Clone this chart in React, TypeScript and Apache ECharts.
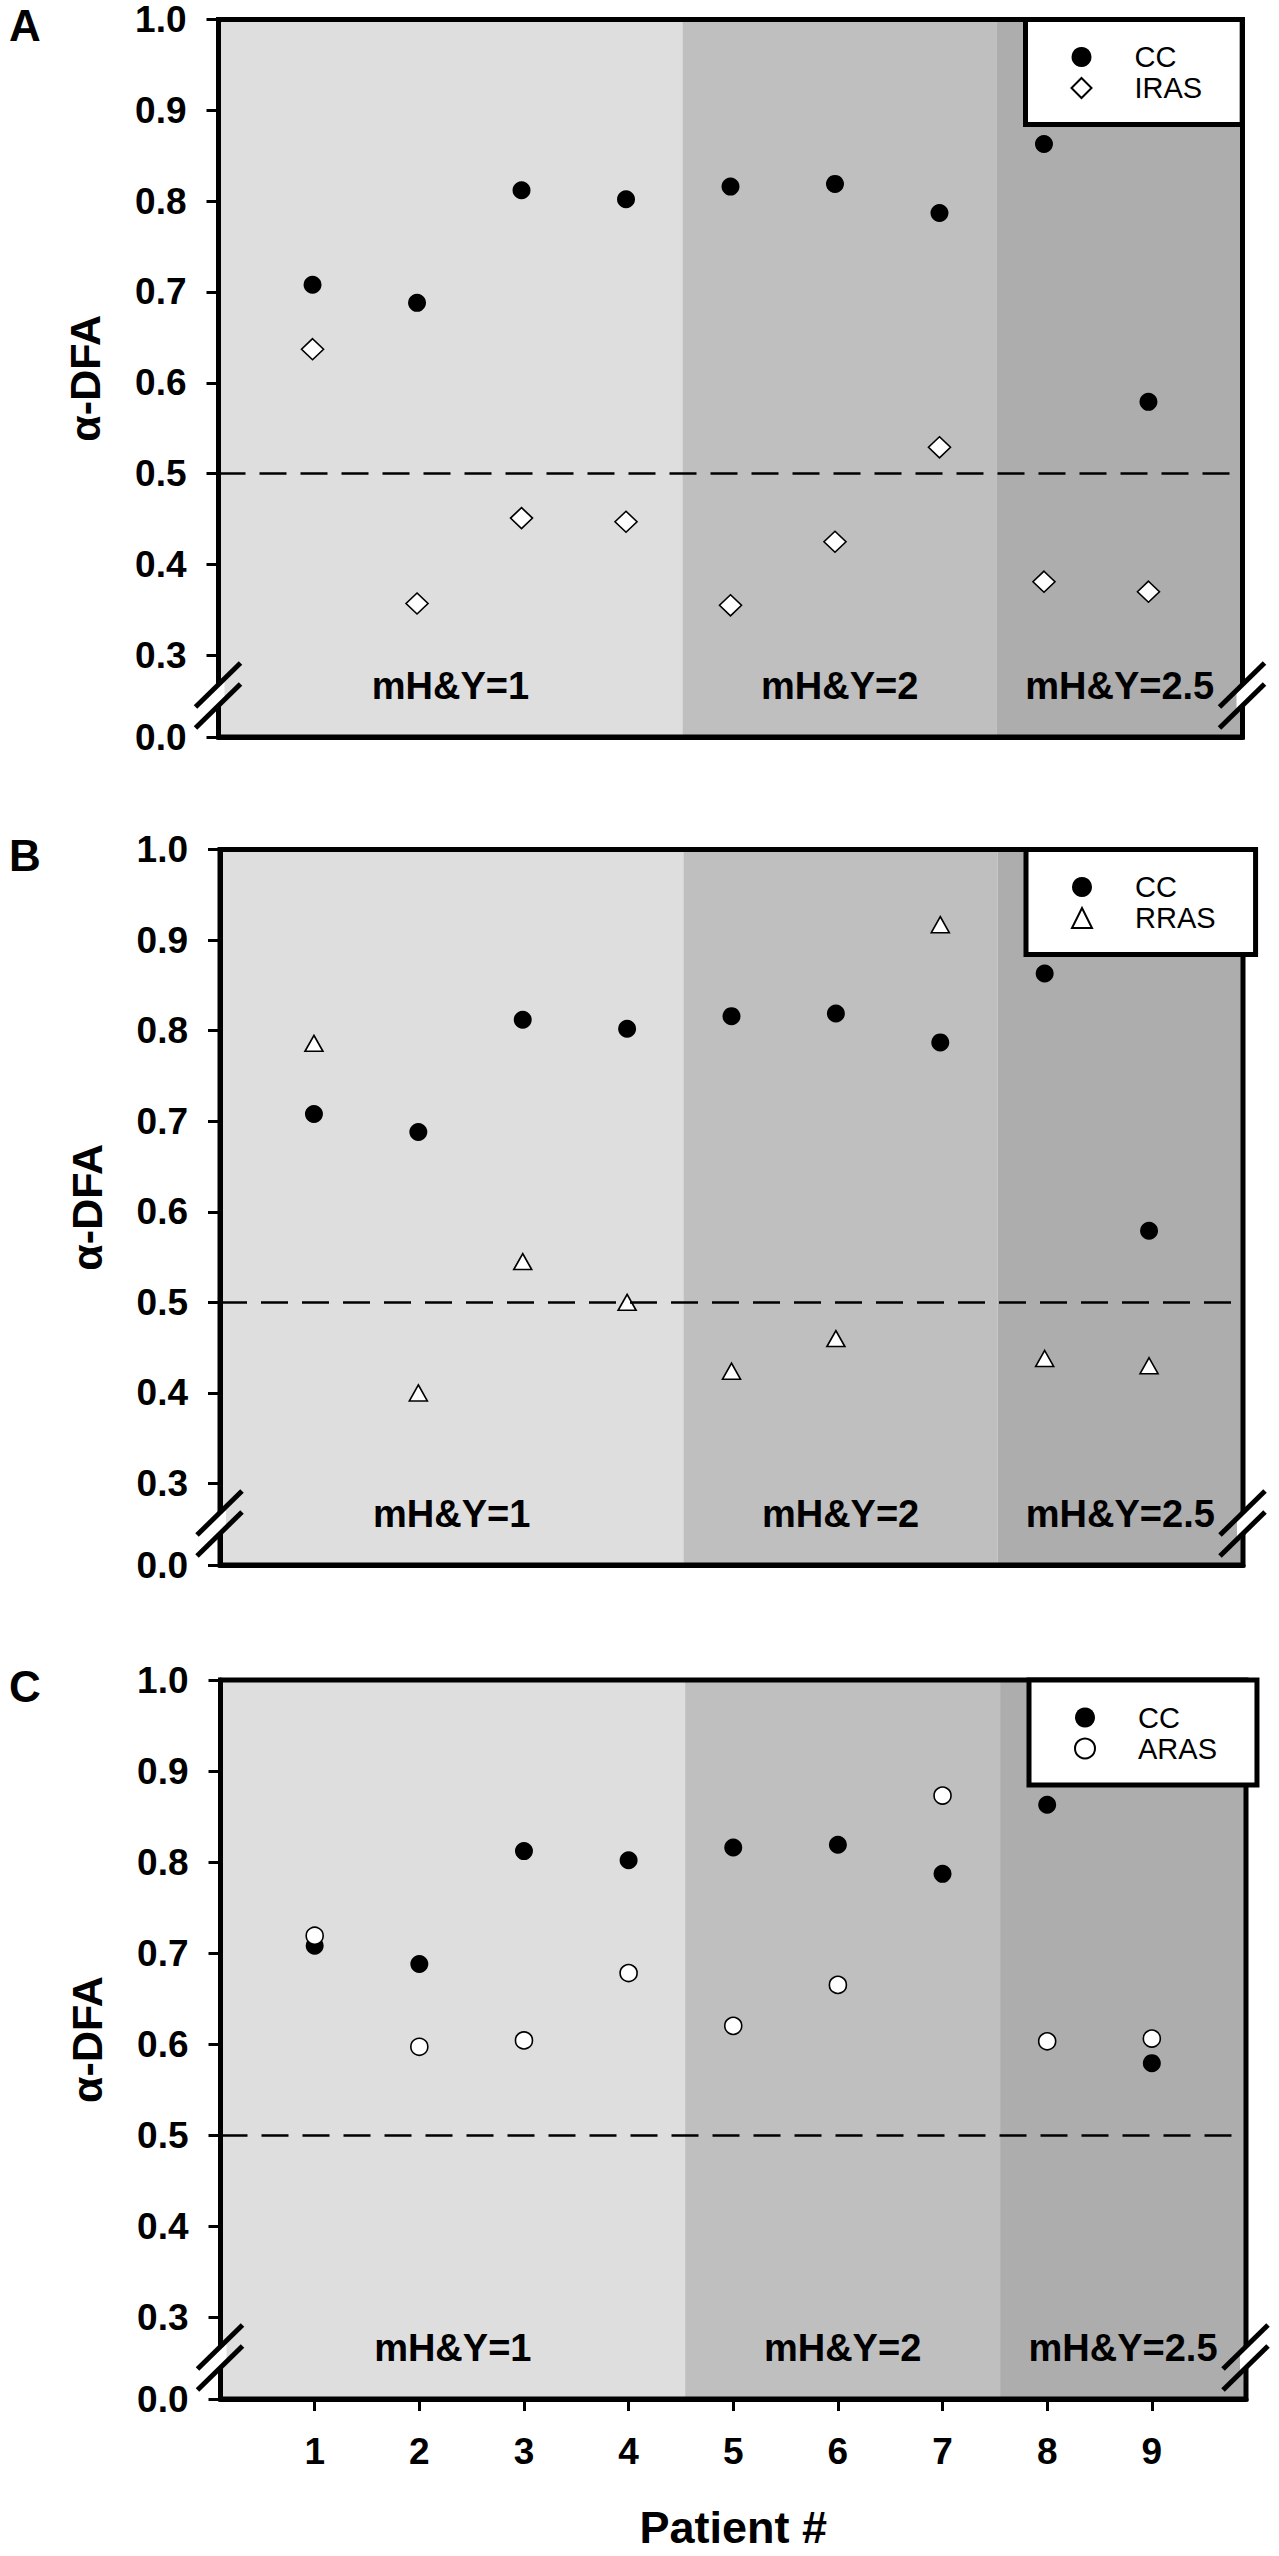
import React, { useEffect, useRef } from "react";
import * as echarts from "echarts";

// ---------- data ----------
const patients = [1, 2, 3, 4, 5, 6, 7, 8, 9];
const ccValues = [0.708, 0.688, 0.812, 0.802, 0.816, 0.819, 0.787, 0.863, 0.579];
const irasValues = [0.637, 0.357, 0.451, 0.447, 0.355, 0.425, 0.529, 0.381, 0.37];
const rrasValues = [0.786, 0.4, 0.545, 0.5, 0.424, 0.46, 0.917, 0.438, 0.43];
const arasValues = [0.719, 0.597, 0.604, 0.678, 0.62, 0.665, 0.873, 0.603, 0.606];

const yTickValues = [0.21, 0.3, 0.4, 0.5, 0.6, 0.7, 0.8, 0.9, 1.0];
const xTickValues = [1, 2, 3, 4, 5, 6, 7, 8, 9];
const stageLabels = ["mH&Y=1", "mH&Y=2", "mH&Y=2.5"];
const stageBounds = [0.1, 4.54, 7.55, 9.9];
const referenceLine = 0.5;
const panelLetters = ["A", "B", "C"];
const compareNames = ["IRAS", "RRAS", "ARAS"];

const Y_MIN = 0.21;
const Y_MAX = 1.0;
const X_MIN = 0.1;
const X_MAX = 9.9;

// ---------- styling / layout ----------
const FONT = '"Liberation Sans", Arial, Helvetica, sans-serif';
const stageColors = ["#dedede", "#bfbfbf", "#adadad"];
const panelBoxes = [
  { L: 218.5, R: 1242.5, T: 19.5, B: 737 },
  { L: 220, R: 1243, T: 849.5, B: 1565 },
  { L: 220.5, R: 1246, T: 1680, B: 2399 },
];
const compareSymbols = [
  { symbol: "diamond", size: [22, 21] },
  { symbol: "triangle", size: [18, 16] },
  { symbol: "circle", size: 17 },
];
const compareValues = [irasValues, rrasValues, arasValues];

function buildOption() {
  const grid = panelBoxes.map((p) => ({
    left: p.L,
    top: p.T,
    width: p.R - p.L,
    height: p.B - p.T,
    show: true,
    borderColor: "#000",
    borderWidth: 5,
    backgroundColor: "transparent",
    containLabel: false,
    z: 4,
  }));

  const xAxis = panelBoxes.map((p, i) => {
    const last = i === panelBoxes.length - 1;
    return {
      type: "value",
      gridIndex: i,
      min: X_MIN,
      max: X_MAX,
      z: 5,
      axisLine: { show: true, onZero: false, lineStyle: { color: "#000", width: 5 } },
      splitLine: { show: false },
      axisTick: last
        ? { show: true, customValues: xTickValues, length: 12, lineStyle: { color: "#000", width: 3 } }
        : { show: false },
      axisLabel: last
        ? {
            show: true,
            customValues: xTickValues,
            margin: 34,
            fontSize: 37,
            fontWeight: "bold",
            fontFamily: FONT,
            color: "#000",
            formatter: (v: number) => String(Math.round(v)),
          }
        : { show: false },
      name: last ? "Patient #" : "",
      nameLocation: "middle",
      nameGap: 106,
      nameTextStyle: { fontSize: 45, fontWeight: "bold", fontFamily: FONT, color: "#000" },
    };
  });

  const yAxis = panelBoxes.map((p, i) => ({
    type: "value",
    gridIndex: i,
    min: Y_MIN,
    max: Y_MAX,
    z: 5,
    axisLine: { show: true, onZero: false, lineStyle: { color: "#000", width: 5 } },
    splitLine: { show: false },
    axisTick: { show: true, customValues: yTickValues, length: 12, lineStyle: { color: "#000", width: 3 } },
    axisLabel: {
      show: true,
      customValues: yTickValues,
      margin: 32,
      fontSize: 37,
      fontWeight: "bold",
      fontFamily: FONT,
      color: "#000",
      formatter: (v: number) => (v < 0.25 ? "0.0" : Number(v).toFixed(1)),
    },
    name: "α-DFA",
    nameLocation: "middle",
    nameGap: 112,
    nameRotate: 90,
    nameTextStyle: { fontSize: 43, fontWeight: "bold", fontFamily: FONT, color: "#000" },
  }));

  const series: any[] = [];
  panelBoxes.forEach((p, i) => {
    series.push({
      type: "scatter",
      name: "CC",
      xAxisIndex: i,
      yAxisIndex: i,
      data: patients.map((x, k) => [x, ccValues[k]]),
      symbol: "circle",
      symbolSize: 18,
      itemStyle: { color: "#000", opacity: 1 },
      z: 2,
      markArea: {
        silent: true,
        label: {
          show: true,
          position: "insideBottom",
          distance: 32,
          fontSize: 38,
          fontWeight: "bold",
          fontFamily: FONT,
          color: "#000",
        },
        data: stageLabels.map((name, k) => [
          { name, xAxis: stageBounds[k], yAxis: Y_MIN, itemStyle: { color: stageColors[k], opacity: 1, borderWidth: 0 } },
          { xAxis: stageBounds[k + 1], yAxis: Y_MAX },
        ]),
      },
      markLine: {
        silent: true,
        symbol: "none",
        label: { show: false },
        lineStyle: { type: [27, 14], color: "#000", width: 2.5 },
        data: [{ yAxis: referenceLine }],
      },
    });
    series.push({
      type: "scatter",
      name: compareNames[i],
      xAxisIndex: i,
      yAxisIndex: i,
      data: patients.map((x, k) => [x, compareValues[i][k]]),
      symbol: compareSymbols[i].symbol,
      symbolSize: compareSymbols[i].size,
      itemStyle: { color: "#fff", borderColor: "#000", borderWidth: 1.6, opacity: 1 },
      z: 3,
    });
  });

  const legend = panelBoxes.map((p, i) => ({
    data: [
      { name: "CC", icon: "circle" },
      { name: compareNames[i], icon: compareSymbols[i].symbol },
    ],
    orient: "vertical",
    left: p.R - 217,
    top: p.T,
    itemWidth: 20,
    itemHeight: 20,
    itemGap: 0,
    padding: [22, 40, 21, 45],
    backgroundColor: "#fff",
    borderColor: "#000",
    borderWidth: 5,
    borderRadius: 0,
    selectedMode: false,
    z: 8,
    textStyle: { fontSize: 29, fontFamily: FONT, color: "#000", lineHeight: 31, padding: [0, 0, 0, 38] },
  }));

  const graphic: any[] = [];
  panelBoxes.forEach((p, i) => {
    graphic.push({
      type: "text",
      x: 9,
      y: p.T + 6,
      z: 20,
      style: {
        text: panelLetters[i],
        fontSize: 44,
        fontWeight: "bold",
        fontFamily: FONT,
        fill: "#000",
        verticalAlign: "middle",
        align: "left",
      },
    });
    [p.L, p.R].forEach((X) => {
      const B = p.B;
      const s = 44 / 45;
      const y1 = (x: number) => B - 30 - (x - (X - 23)) * s;
      const y2 = (x: number) => B - 9 - (x - (X - 23)) * s;
      graphic.push({
        type: "polygon",
        z: 20,
        shape: {
          points: [
            [X - 6, y1(X - 6)],
            [X + 6, y1(X + 6)],
            [X + 6, y2(X + 6)],
            [X - 6, y2(X - 6)],
          ],
        },
        style: { fill: "#fff" },
      });
      graphic.push({
        type: "line",
        z: 21,
        shape: { x1: X - 23, y1: y1(X - 23), x2: X + 22, y2: y1(X + 22) },
        style: { stroke: "#000", lineWidth: 5 },
      });
      graphic.push({
        type: "line",
        z: 21,
        shape: { x1: X - 23, y1: y2(X - 23), x2: X + 22, y2: y2(X + 22) },
        style: { stroke: "#000", lineWidth: 5 },
      });
    });
  });

  return {
    animation: false,
    backgroundColor: "#fff",
    textStyle: { fontFamily: FONT },
    grid,
    xAxis,
    yAxis,
    legend,
    series,
    graphic,
  };
}

export default function App() {
  const ref = useRef<HTMLDivElement>(null);
  useEffect(() => {
    document.body.style.margin = "0";
    if (!ref.current) return;
    const chart = echarts.init(ref.current, undefined, { renderer: "svg" });
    chart.setOption(buildOption() as any);
    return () => chart.dispose();
  }, []);
  return <div ref={ref} style={{ width: 1279, height: 2556 }} />;
}
